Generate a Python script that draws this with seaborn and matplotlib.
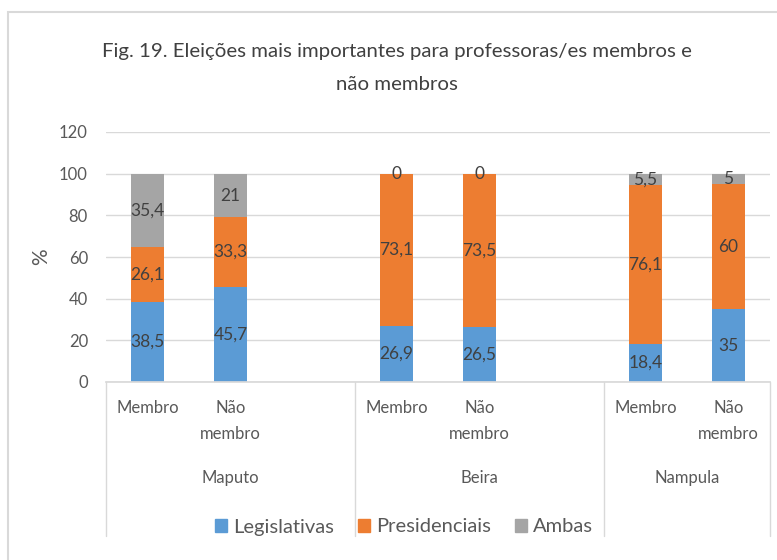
import matplotlib
matplotlib.use("Agg")
import matplotlib.pyplot as plt
import matplotlib.patches as mpatches
import matplotlib.transforms as mtransforms
import pandas as pd
import seaborn as sns

# ==========================================================
# Data
# ==========================================================

cities = ["Maputo", "Beira", "Nampula"]
groups = ["Membro", "Não membro"]
tick_labels = ["Membro", "Não\nmembro"]

legislativas = [38.5, 45.7, 26.9, 26.5, 18.4, 35]
presidenciais = [26.1, 33.3, 73.1, 73.5, 76.1, 60]
ambas = [35.4, 21, 0, 0, 5.5, 5]

series_names = ["Legislativas", "Presidenciais", "Ambas"]
colors = ["#5B9BD5", "#ED7D31", "#A5A5A5"]

# ==========================================================
# Layout
# ==========================================================

sns.set_theme(style="white")
plt.rcParams["font.family"] = ["Lato", "DejaVu Sans"]

keys = [f"{c}|{g}" for c in cities for g in groups]
order = []
for i, c in enumerate(cities):
    order += [f"{c}|{g}" for g in groups]
    if i < len(cities) - 1:
        order.append(f"gap{i}")

df = pd.DataFrame({
    "key": keys,
    "Legislativas": legislativas,
    "Presidenciais": presidenciais,
    "Ambas": ambas,
})
df["cum1"] = df["Legislativas"]
df["cum2"] = df["cum1"] + df["Presidenciais"]
df["cum3"] = df["cum2"] + df["Ambas"]

fig = plt.figure(figsize=(7.77, 5.6), dpi=100)
ax = fig.add_axes([106 / 777, 1 - 382 / 560, 664 / 777, 250 / 560])

for col, color in zip(["cum3", "cum2", "cum1"], colors[::-1]):
    sns.barplot(data=df, x="key", y=col, order=order, color=color,
                width=0.4, saturation=1, ax=ax, errorbar=None,
                linewidth=0)

ax.set_xlim(-0.5, len(order) - 0.5)
ax.set_ylim(0, 120)
ax.set_yticks(range(0, 121, 20))
ax.yaxis.grid(True, color="#D9D9D9", linewidth=1)
ax.set_axisbelow(True)
for side in ["top", "right", "left"]:
    ax.spines[side].set_visible(False)
ax.spines["bottom"].set_color("#D9D9D9")
ax.tick_params(axis="both", length=0, labelsize=12, colors="#595959")
ax.tick_params(axis="y", pad=13)
ax.set_xlabel("")
ax.set_ylabel("%", fontsize=15, color="#595959", labelpad=6)

# segment labels
for k, row in df.iterrows():
    pos = order.index(row["key"])
    lower = 0
    for name in series_names:
        val = row[name]
        txt = f"{val:g}".replace(".", ",")
        ax.text(pos, lower + val / 2, txt, ha="center", va="center",
                fontsize=12.5, color="#404040")
        lower += val

# category labels
xt = [order.index(k) for k in keys]
ax.set_xticks(xt)
ax.set_xticklabels(tick_labels * len(cities), va="top", linespacing=1.75)
ax.tick_params(axis="x", pad=13)

trans = mtransforms.blended_transform_factory(ax.transData, ax.transAxes)
sep_bottom = -(536 - 382) / 250
for i, c in enumerate(cities):
    start = i * 3 - 0.5
    end = min(start + 3, len(order) - 0.5)
    ax.text((start + end) / 2, -(478 - 382) / 250, c, transform=trans,
            ha="center", va="center", fontsize=12, color="#595959")
    ax.plot([start, start], [0, sep_bottom], transform=trans,
            color="#D9D9D9", linewidth=1, clip_on=False)
ax.plot([len(order) - 0.5] * 2, [0, sep_bottom], transform=trans,
        color="#D9D9D9", linewidth=1, clip_on=False)

# title
fig.text(397 / 777, 1 - 68 / 560,
         "Fig. 19. Eleições mais importantes para professoras/es membros e\nnão membros",
         ha="center", va="center", fontsize=14.7, color="#404040",
         linespacing=2.2)

# legend
handles = [mpatches.Patch(color=c, label=n) for c, n in zip(colors, series_names)]
fig.legend(handles=handles, loc="center", bbox_to_anchor=(404 / 777, 1 - 527 / 560),
           ncol=3, frameon=False, fontsize=14.5, handlelength=0.6,
           handleheight=0.6, handletextpad=0.3, columnspacing=1.2,
           labelcolor="#595959")

# chart border
fig.patches.append(mpatches.Rectangle(
    (8 / 777, -0.1), 1.1, 1 - 12 / 560 + 0.1, transform=fig.transFigure,
    fill=False, edgecolor="#D9D9D9", linewidth=1.5))

fig.savefig("out.png", dpi=100)
